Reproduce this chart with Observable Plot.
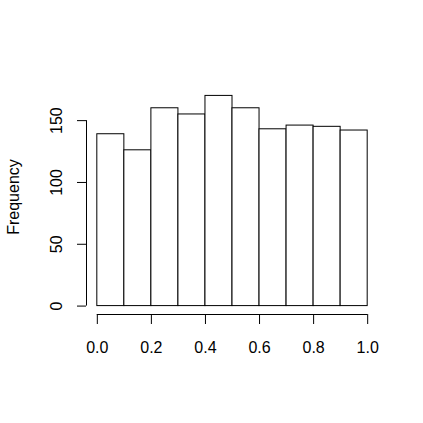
<!DOCTYPE html>
<html>
<head>
<meta charset="utf-8">
<script src="https://cdn.jsdelivr.net/npm/d3@7"></script>
<script src="https://cdn.jsdelivr.net/npm/@observablehq/plot@0.6"></script>
<style>
  html, body { margin: 0; padding: 0; background: #ffffff; }
  #chart svg { display: block; }
</style>
</head>
<body>
<div id="chart"></div>
<script>
// Histogram bins (breaks) and counts
const binStarts = [0.0, 0.1, 0.2, 0.3, 0.4, 0.5, 0.6, 0.7, 0.8, 0.9];
const binEnds   = [0.1, 0.2, 0.3, 0.4, 0.5, 0.6, 0.7, 0.8, 0.9, 1.0];
const counts    = [139, 126, 160, 155, 170, 160, 143, 146, 145, 142];
const xTicks = [0, 0.2, 0.4, 0.6, 0.8, 1.0];
const xTickLabels = ["0.0", "0.2", "0.4", "0.6", "0.8", "1.0"];
const yTicks = [0, 50, 100, 150];
const yTickLabels = ["0", "50", "100", "150"];
const yLabel = "Frequency";

const bins = binStarts.map((s, i) => ({x1: s, x2: binEnds[i], count: counts[i]}));

// R-style 4% axis extension
const xLo = d3.min(binStarts), xHi = d3.max(binEnds);
const yLo = 0, yHi = d3.max(counts);
const xPad = 0.04 * (xHi - xLo), yPad = 0.04 * (yHi - yLo);
const xDomain = [xLo - xPad, xHi + xPad];
const yDomain = [yLo - yPad, yHi + yPad];

const font = "'Liberation Sans', Arial, Helvetica, sans-serif";

const chart = Plot.plot({
  width: 423,
  height: 423,
  marginLeft: 86,
  marginRight: 45,
  marginTop: 87,
  marginBottom: 109,
  style: {background: "#ffffff", fontFamily: font, fontSize: "16px", color: "#000"},
  x: {domain: xDomain, axis: null},
  y: {domain: yDomain, axis: null},
  marks: [
    Plot.rectY(bins, {x1: "x1", x2: "x2", y1: 0, y2: "count", fill: "#ffffff", stroke: "#000", strokeWidth: 1, inset: 0}),
    // x axis
    Plot.ruleY([yDomain[0]], {x1: xTicks[0], x2: xTicks[xTicks.length - 1], stroke: "#000", strokeWidth: 1}),
    Plot.axisX({ticks: xTicks, tickSize: 10, tickPadding: 17, tickFormat: (d, i) => xTickLabels[i], fontSize: 16, fill: "#000", stroke: "#000", label: null}),
    // y axis
    Plot.ruleX([xDomain[0]], {y1: yTicks[0], y2: yTicks[yTicks.length - 1], stroke: "#000", strokeWidth: 1}),
    Plot.axisY({ticks: yTicks, tickSize: 9, tickFormat: () => "", stroke: "#000", label: null}),
    Plot.text(yTicks, {x: xDomain[0], y: d => d, text: (d, i) => yTickLabels[i], rotate: -90, dx: -30, fontSize: 16, fill: "#000", textAnchor: "middle"}),
    Plot.text([yLabel], {frameAnchor: "left", text: d => d, rotate: -90, dx: -73, dy: -4, fontSize: 16, fill: "#000", textAnchor: "middle"})
  ]
});

document.getElementById("chart").appendChild(chart);
</script>
</body>
</html>
